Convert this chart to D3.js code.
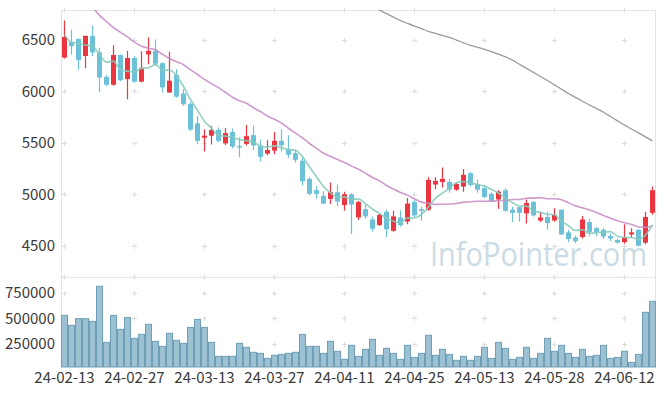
<!DOCTYPE html>
<html><head><meta charset="utf-8">
<script src="https://cdn.jsdelivr.net/npm/d3@7"></script>
<style>html,body{margin:0;padding:0;background:#fff;}svg{display:block;}</style>
</head><body>
<svg id="chart" width="665" height="396"></svg>
<script>
const dates = ["24-02-13","24-02-14","24-02-15","24-02-16","24-02-19","24-02-20","24-02-21","24-02-22","24-02-23","24-02-26",
"24-02-27","24-02-28","24-02-29","24-03-04","24-03-05","24-03-06","24-03-07","24-03-08","24-03-11","24-03-12",
"24-03-13","24-03-14","24-03-15","24-03-18","24-03-19","24-03-20","24-03-21","24-03-22","24-03-25","24-03-26",
"24-03-27","24-03-28","24-03-29","24-04-01","24-04-02","24-04-03","24-04-04","24-04-05","24-04-08","24-04-09",
"24-04-11","24-04-12","24-04-15","24-04-16","24-04-17","24-04-18","24-04-19","24-04-22","24-04-23","24-04-24",
"24-04-25","24-04-26","24-04-29","24-04-30","24-05-02","24-05-03","24-05-07","24-05-08","24-05-09","24-05-10",
"24-05-13","24-05-14","24-05-16","24-05-17","24-05-20","24-05-21","24-05-22","24-05-23","24-05-24","24-05-27",
"24-05-28","24-05-29","24-05-30","24-05-31","24-06-03","24-06-04","24-06-05","24-06-07","24-06-10","24-06-11",
"24-06-12","24-06-13","24-06-14","24-06-17","24-06-18"];
const opens = [6330,6480,6510,6345,6540,6380,6140,6065,6355,6120,6325,6095,6360,6395,6275,5990,6160,5980,5880,5690,
5550,5570,5625,5495,5605,5470,5490,5575,5475,5395,5425,5520,5435,5400,5325,5150,5040,4985,4955,5020,
4895,5000,4775,4855,4755,4700,4830,4645,4775,4735,4925,4855,4850,5095,5120,5120,5045,5075,5205,5100,
5060,5005,4950,5040,4850,4875,4815,4925,4745,4780,4745,4850,4630,4580,4585,4730,4670,4655,4595,4555,
4535,4610,4655,4530,4820];
const highs = [6690,6600,6515,6545,6640,6425,6160,6450,6360,6395,6345,6390,6525,6505,6285,6385,6215,6025,5895,5760,
5630,5665,5650,5645,5640,5555,5675,5670,5530,5525,5605,5630,5575,5430,5365,5165,5080,5030,5115,5095,
5025,5010,4935,4895,4785,4810,4850,4840,4845,4965,4945,4880,5165,5165,5260,5150,5110,5245,5215,5145,
5090,5020,5040,5060,4880,4880,4950,4935,4820,4830,4865,4855,4655,4600,4790,4760,4685,4675,4620,4570,
4710,4670,4660,4830,5075];
const lows = [6320,6360,6210,6225,6345,5995,6050,6055,6100,5925,6085,6090,6265,6250,5990,5985,5940,5860,5615,5490,
5415,5485,5505,5480,5445,5360,5475,5430,5320,5380,5390,5415,5355,5310,5085,4990,4960,4905,4905,4885,
4840,4615,4750,4760,4635,4695,4585,4635,4685,4710,4780,4745,4840,5050,5065,5015,5035,5025,5075,5015,
4965,4925,4860,4830,4730,4735,4715,4785,4730,4655,4735,4605,4535,4525,4570,4590,4595,4565,4545,4520,
4520,4575,4495,4515,4800];
const closes = [6530,6440,6305,6540,6380,6135,6065,6355,6110,6325,6095,6230,6395,6270,6040,6105,5950,5875,5630,5520,
5570,5625,5520,5595,5465,5455,5565,5475,5365,5430,5520,5475,5385,5335,5125,5005,5005,4910,5020,4930,
5000,4900,4925,4785,4665,4800,4660,4785,4700,4910,4795,4840,5140,5130,5150,5045,5100,5190,5090,5045,
4975,4930,5025,4840,4820,4820,4915,4795,4775,4720,4800,4610,4565,4545,4755,4635,4635,4590,4570,4530,
4580,4630,4500,4780,5040];
const volumes = [529000,432000,497000,497000,471000,812000,266000,529000,393000,507000,
305000,344000,442000,276000,227000,354000,286000,257000,412000,490000,
412000,266000,130000,130000,130000,257000,218000,169000,159000,110000,
140000,149000,159000,169000,344000,227000,227000,159000,276000,179000,
101000,237000,130000,198000,296000,140000,208000,159000,101000,237000,
120000,159000,335000,140000,198000,149000,91000,130000,91000,130000,
218000,110000,266000,208000,101000,120000,218000,110000,159000,305000,
179000,237000,159000,120000,198000,130000,140000,237000,110000,120000,
179000,71000,149000,559000,666000];
const ma5 = [6550,6478,6468,6452,6439,6360,6285,6295,6209,6198,6190,6223,6231,6263,6206,6208,6152,6048,5920,5816,
5709,5644,5573,5566,5555,5532,5520,5511,5465,5458,5471,5453,5435,5429,5368,5265,5171,5076,5013,4974,
4973,4952,4955,4908,4855,4815,4767,4739,4722,4771,4770,4806,4877,4963,5011,5061,5113,5123,5115,5094,
5080,5046,5013,4963,4918,4887,4884,4838,4825,4805,4801,4740,4694,4648,4655,4622,4627,4632,4637,4592,
4581,4580,4562,4604,4706];
const ma20 = [null,null,null,null,6820,6740,6680,6620,6575,6530,6480,6440,6420,6405,6360,6320,6290,6260,6210,6165,
6117,6076,6037,5990,5944,5910,5885,5841,5804,5759,5730,5692,5642,5595,5549,5494,5447,5399,5368,5339,
5310,5274,5244,5204,5164,5131,5086,5051,5018,4992,4956,4924,4912,4902,4903,4905,4910,4924,4927,4933,
4932,4933,4938,4941,4949,4950,4962,4963,4967,4957,4957,4946,4917,4888,4868,4848,4824,4794,4768,4743,
4723,4708,4682,4679,4690];
const ma60 = [null,null,null,null,null,null,null,null,null,null,null,null,null,null,null,null,null,null,null,null,
null,null,null,null,null,null,null,null,null,null,null,null,null,null,null,null,null,null,null,null,
null,null,null,null,6830,6790,6757,6723,6689,6661,6635,6610,6584,6564,6545,6526,6500,6473,6448,6429,
6410,6388,6362,6336,6304,6264,6225,6185,6145,6106,6064,6022,5980,5942,5905,5868,5834,5798,5756,5714,
5673,5635,5597,5558,5520];
const priceTicks = [4500,5000,5500,6000,6500];
const volumeTicks = [250000,500000,750000];
const xTickIdx = [0,10,20,30,40,50,60,70,80];
const watermark = "InfoPointer.com";

const svg = d3.select("#chart");
const L = 61, R = 656, T = 10, MB = 277.3, VB = 367;
const font = "'Noto Sans CJK KR','Noto Sans',sans-serif";

const x = d3.scaleBand().domain(dates).range([L, R]).padding(0);
const step = x.bandwidth();
const y = d3.scaleLinear().domain([4193, 6792]).range([MB, T]);
const yv = d3.scaleLinear().domain([26000, 900000]).range([VB, MB]);

const defs = svg.append("defs");
defs.append("clipPath").attr("id","clipMain").append("rect")
  .attr("x", L).attr("y", T).attr("width", R - L).attr("height", MB - T);

// grid plus markers
const grid = svg.append("g").attr("stroke", "#dcdcdc").attr("stroke-width", 1);
function plus(cx, cy){
  grid.append("line").attr("x1", cx-2.5).attr("x2", cx+2.5).attr("y1", cy).attr("y2", cy);
  grid.append("line").attr("x1", cx).attr("x2", cx).attr("y1", cy-2.5).attr("y2", cy+2.5);
}
xTickIdx.forEach(i => {
  const cx = Math.round(x(dates[i]) + step/2) + 0.5 - 1;
  priceTicks.forEach(p => plus(cx, Math.round(y(p)) + 0.5));
  volumeTicks.forEach(v => plus(cx, Math.round(yv(v)) + 0.5));
  plus(cx, T + 0.5); plus(cx, MB);
});

// frame
const frame = svg.append("g").attr("stroke", "#e3e3e3").attr("stroke-width", 1).attr("fill","none");
frame.append("line").attr("x1", L).attr("x2", R-0.5).attr("y1", T+0.5).attr("y2", T+0.5);
frame.append("line").attr("x1", L).attr("x2", R-0.5).attr("y1", MB).attr("y2", MB);
frame.append("line").attr("x1", L+0.5).attr("x2", L+0.5).attr("y1", T).attr("y2", VB);
frame.append("line").attr("x1", R-0.5).attr("x2", R-0.5).attr("y1", T).attr("y2", VB);

// watermark
svg.append("text").attr("x", 430).attr("y", 266)
  .attr("font-family", "'Open Sans','Noto Sans',sans-serif").attr("font-size", 32.5)
  .attr("textLength", 217).attr("lengthAdjust", "spacingAndGlyphs")
  .attr("fill", "#cbdbe5").text(watermark);

// volume bars
svg.append("g").selectAll("rect").data(volumes).join("rect")
  .attr("x", (d,i) => x(dates[i]) + 0.5)
  .attr("width", step - 1)
  .attr("y", d => yv(d))
  .attr("height", d => VB - yv(d))
  .attr("fill", "#9cc1d2").attr("stroke", "#6f9fb6").attr("stroke-width", 1);

// candles
const up = "#eb3540", down = "#6cc0d8";
const cg = svg.append("g").attr("clip-path","url(#clipMain)");
dates.forEach((d,i) => {
  const o = opens[i], c = closes[i], h = highs[i], l = lows[i];
  const col = c >= o ? up : down;
  const cx = x(d) + step/2;
  cg.append("line").attr("x1", cx).attr("x2", cx).attr("y1", y(h)).attr("y2", y(l))
    .attr("stroke", col).attr("stroke-width", 1.2);
  const top = y(Math.max(o,c)), bot = y(Math.min(o,c));
  cg.append("rect").attr("x", x(d) + 1).attr("width", step - 2)
    .attr("y", top).attr("height", Math.max(1.5, bot - top)).attr("fill", col);
});

// moving averages
function maLine(arr, color, w, op){
  const line = d3.line()
    .defined(v => v != null)
    .x((v,i) => x(dates[i]) + step/2)
    .y(v => y(v))
    .curve(d3.curveMonotoneX);
  cg.append("path").datum(arr).attr("d", line)
    .attr("fill","none").attr("stroke", color).attr("stroke-width", w).attr("stroke-opacity", op);
}
maLine(ma60, "#9a9a9a", 1.3, 1);
maLine(ma20, "#c98ec6", 1.6, 0.9);
maLine(ma5, "#86cbbd", 1.6, 0.9);

// axes labels
const tg = svg.append("g").attr("font-family", font).attr("font-size", 15).attr("fill", "#3a3a3a");
priceTicks.forEach(p => {
  tg.append("text").attr("x", 55).attr("y", y(p)).attr("dy", "0.35em").attr("text-anchor","end").text(p);
});
volumeTicks.forEach(v => {
  tg.append("text").attr("x", 55).attr("y", yv(v)).attr("dy", "0.35em").attr("text-anchor","end").text(v);
});
xTickIdx.forEach(i => {
  tg.append("text").attr("x", x(dates[i]) + step/2).attr("y", 383)
    .attr("text-anchor","middle").text(dates[i]);
});
</script>
</body></html>
